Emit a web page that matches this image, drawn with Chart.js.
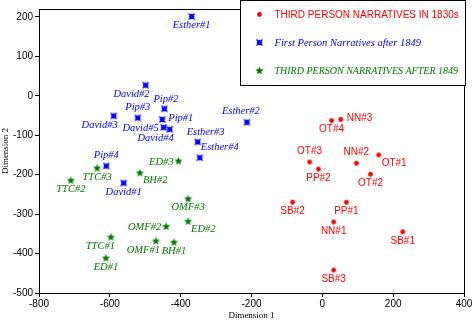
<!DOCTYPE html>
<html>
<head>
<meta charset="utf-8">
<script src="https://cdn.jsdelivr.net/npm/chart.js@4/dist/chart.umd.min.js"></script>
<style>
  body { margin: 0; background: #fff; }
  canvas { display: block; }
</style>
</head>
<body>
<canvas id="mds" width="476" height="323"></canvas>
<script>
// Third person narratives in 1830s
const redNames = ['NN#3', 'OT#4', 'OT#1', 'OT#3', 'NN#2', 'PP#2', 'OT#2', 'SB#2', 'PP#1', 'NN#1', 'SB#1', 'SB#3'];
const redX = [52, 26, 159, -36, 96, -11, 136, -84, 68, 32, 227, 32];
const redY = [-60, -63, -150, -168, -171, -186, -199, -270, -270, -320, -345, -442];

// First person narratives after 1849
const blueNames = ['Esther#1', 'David#2', 'Pip#2', 'Pip#3', 'Pip#1', 'David#3', 'David#5', 'David#4', 'Esther#3', 'Esther#2', 'Esther#4', 'Pip#4', 'David#1'];
const blueX = [-369, -499, -446, -521, -452, -589, -448, -431, -352, -213, -346, -610, -561];
const blueY = [201, 27, -33, -56, -60, -51, -80, -85, -117, -67, -157, -178, -221];

// Third person narratives after 1849
const greenNames = ['ED#3', 'TTC#3', 'BH#2', 'TTC#2', 'OMF#3', 'ED#2', 'OMF#2', 'TTC#1', 'OMF#1', 'BH#1', 'ED#1'];
const greenX = [-406, -636, -515, -710, -379, -379, -441, -597, -470, -419, -611];
const greenY = [-165, -183, -195, -214, -261, -318, -331, -358, -368, -371, -411];

// where each label sits relative to its point
const redLabelPos = ['r', 'b', 'br', 'a', 'a', 'b', 'b', 'b', 'b', 'b', 'b', 'b'];
const blueLabelPos = ['b', 'bl', 'ar', 'a', 'r', 'bl', 'l', 'bl', 'ar', 'al', 'ae', 'a', 'b'];
const greenLabelPos = ['l', 'b', 'br', 'b', 'b', 'br', 'l', 'bl', 'bl', 'b', 'b'];

const xTicks = [-800, -600, -400, -200, 0, 200, 400];
const yTicks = [200, 100, 0, -100, -200, -300, -400, -500];

const RED = '#ff0000';
const BLUE = '#0000ff';
const GREEN = '#007a00';

const SANS = '"Liberation Sans", Arial, sans-serif';
const SERIF = '"Liberation Serif", "Times New Roman", serif';

function makeMarker(kind, color) {
    const c = document.createElement('canvas');
    c.width = 9; c.height = 9;
    const g = c.getContext('2d');
    g.fillStyle = color;
    g.strokeStyle = color;
    if (kind === 'circle') {
        g.beginPath();
        g.arc(4.5, 4.5, 2.4, 0, Math.PI * 2);
        g.fill();
    } else if (kind === 'box') {
        g.fillRect(2.5, 2.5, 4, 4);
        g.lineWidth = 1.3;
        g.beginPath();
        g.moveTo(1.5, 1.5); g.lineTo(7.5, 7.5);
        g.moveTo(7.5, 1.5); g.lineTo(1.5, 7.5);
        g.moveTo(4.5, 1.8); g.lineTo(4.5, 7.2);
        g.moveTo(1.8, 4.5); g.lineTo(7.2, 4.5);
        g.stroke();
    } else {
        g.beginPath();
        for (let i = 0; i < 10; i++) {
            const r = i % 2 === 0 ? 4.3 : 1.9;
            const a = -Math.PI / 2 + i * Math.PI / 5;
            const px = 4.5 + r * Math.cos(a);
            const py = 4.8 + r * Math.sin(a);
            if (i === 0) g.moveTo(px, py); else g.lineTo(px, py);
        }
        g.closePath();
        g.fill();
    }
    return c;
}

const redMarker = makeMarker('circle', RED);
const blueMarker = makeMarker('box', BLUE);
const greenMarker = makeMarker('star', GREEN);

function toPoints(xs, ys) {
    return xs.map((x, i) => ({ x: x, y: ys[i] }));
}

const seriesInfo = [
    { names: redNames, pos: redLabelPos, color: RED, font: '10px ' + SANS },
    { names: blueNames, pos: blueLabelPos, color: BLUE, font: 'italic 10.5px ' + SERIF },
    { names: greenNames, pos: greenLabelPos, color: GREEN, font: 'italic 10.5px ' + SERIF }
];

// offsets for label anchor codes: [dx, dy, align]
const anchorOffsets = {
    b: [0, 9, 'center'],
    a: [0, -11, 'center'],
    r: [6, -1, 'left'],
    l: [-5, 1, 'right'],
    bl: [4, 9, 'right'],
    br: [3, 8, 'left'],
    ar: [-11, -10, 'left'],
    al: [-6, -11, 'center'],
    ae: [1, -10, 'left']
};

const pointLabels = {
    id: 'pointLabels',
    afterDatasetsDraw(chart) {
        const ctx = chart.ctx;
        ctx.save();
        ctx.textBaseline = 'middle';
        seriesInfo.forEach((s, di) => {
            const meta = chart.getDatasetMeta(di);
            ctx.fillStyle = s.color;
            ctx.font = s.font;
            meta.data.forEach((el, i) => {
                const off = anchorOffsets[s.pos[i]];
                ctx.textAlign = off[2];
                ctx.fillText(s.names[i], el.x + off[0], el.y + off[1]);
            });
        });
        ctx.restore();
    }
};

const frameAndLegend = {
    id: 'frameAndLegend',
    afterDraw(chart) {
        const ctx = chart.ctx;
        const area = chart.chartArea;
        ctx.save();
        // top and right frame lines
        ctx.strokeStyle = '#000';
        ctx.lineWidth = 1;
        ctx.beginPath();
        ctx.moveTo(area.left, Math.round(area.top) + 0.5);
        ctx.lineTo(Math.round(area.right) + 0.5, Math.round(area.top) + 0.5);
        ctx.lineTo(Math.round(area.right) + 0.5, area.bottom);
        ctx.stroke();

        // legend box
        const bx = 240.5, by = 0.5, bw = 225, bh = 85;
        ctx.fillStyle = '#fff';
        ctx.fillRect(bx, by, bw, bh);
        ctx.strokeRect(bx, by, bw, bh);

        const rows = [
            { marker: redMarker, color: RED, font: '10px ' + SANS, text: 'THIRD PERSON NARRATIVES IN 1830s', y: 14.5 },
            { marker: blueMarker, color: BLUE, font: 'italic 10.5px ' + SERIF, text: 'First Person Narratives after 1849', y: 42.5 },
            { marker: greenMarker, color: GREEN, font: 'italic 10px ' + SERIF, text: 'THIRD PERSON NARRATIVES AFTER 1849', y: 70.5 }
        ];
        ctx.textAlign = 'left';
        ctx.textBaseline = 'middle';
        rows.forEach(r => {
            ctx.drawImage(r.marker, 259.5 - 4.5, r.y - 4.5);
            ctx.fillStyle = r.color;
            ctx.font = r.font;
            ctx.fillText(r.text, 274.5, r.y + 0.5);
        });
        ctx.restore();
    }
};

new Chart(document.getElementById('mds'), {
    type: 'scatter',
    data: {
        datasets: [
            { label: 'THIRD PERSON NARRATIVES IN 1830s', data: toPoints(redX, redY), pointStyle: redMarker, pointRadius: 4 },
            { label: 'First Person Narratives after 1849', data: toPoints(blueX, blueY), pointStyle: blueMarker, pointRadius: 4 },
            { label: 'THIRD PERSON NARRATIVES AFTER 1849', data: toPoints(greenX, greenY), pointStyle: greenMarker, pointRadius: 4 }
        ]
    },
    options: {
        responsive: false,
        animation: false,
        events: [],
        layout: { padding: { top: 9, right: 12, left: 0, bottom: 0 } },
        plugins: {
            legend: { display: false },
            tooltip: { enabled: false }
        },
        scales: {
            x: {
                type: 'linear',
                min: -800,
                max: 400,
                afterBuildTicks: scale => { scale.ticks = xTicks.map(v => ({ value: v })); },
                afterFit: scale => { scale.height = 30; },
                ticks: { color: '#000', font: { family: SANS, size: 10 }, padding: 1, maxRotation: 0 },
                grid: { drawOnChartArea: false, drawTicks: true, tickLength: 4, color: '#000' },
                border: { display: true, color: '#000', width: 1 },
                title: { display: true, text: 'Dimension 1', color: '#000', font: { family: SERIF, size: 9 }, padding: { top: 0, bottom: 2 } }
            },
            y: {
                type: 'linear',
                min: -500,
                max: 220,
                afterBuildTicks: scale => { scale.ticks = yTicks.map(v => ({ value: v })); },
                afterFit: scale => { scale.width = 39; },
                ticks: { color: '#000', font: { family: SANS, size: 10 }, padding: 2 },
                grid: { drawOnChartArea: false, drawTicks: true, tickLength: 4, color: '#000' },
                border: { display: true, color: '#000', width: 1 },
                title: { display: true, text: 'Dimension 2', color: '#000', font: { family: SERIF, size: 9 }, padding: { top: 0, bottom: 0 } }
            }
        }
    },
    plugins: [pointLabels, frameAndLegend]
});
</script>
</body>
</html>
